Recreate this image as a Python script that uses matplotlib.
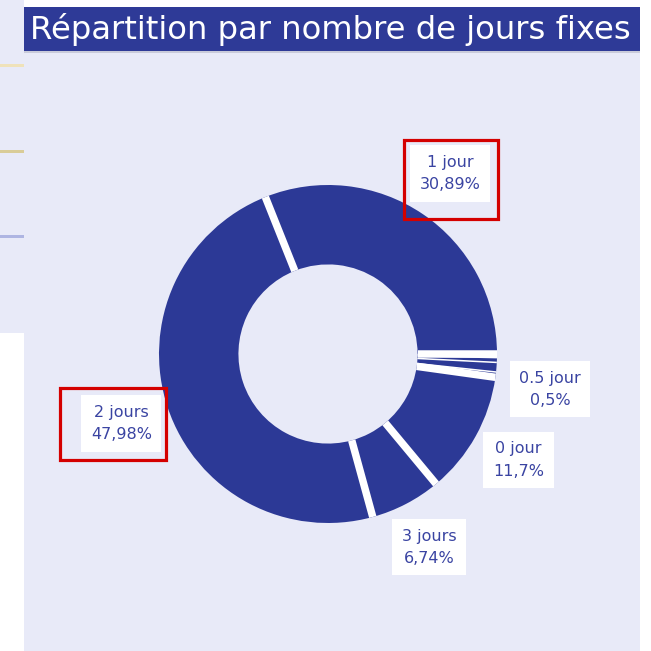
import numpy as np
import matplotlib
matplotlib.use("Agg")
import matplotlib.pyplot as plt
from matplotlib.patches import Rectangle

# ── Data ──
labels = ["1 jour", "2 jours", "3 jours", "0 jour", "0.5 jour",
          "1.5 jours", "2.5 jours", "4 jours", "5 jours"]
values = [30.89, 47.98, 6.74, 11.7, 0.5, 0.9, 0.45, 0.25, 0.09]
pct_text = ["30,89%", "47,98%", "6,74%", "11,7%", "0,5%", "", "", "", ""]
show_label = [True, True, True, True, True, False, False, False, False]
highlighted = {"1 jour": (94, 79, 1, -6), "2 jours": (106, 72, -8, -1)}  # w, h, dx, dy (px)

TITLE = "Répartition par nombre de jours fixes"

# ── Colours ──
PANEL = "#E8EAF8"
BAR = "#2E3A97"
SLICE = "#2C3996"
TEXT = "#3A44A2"
RED = "#D40000"

W = H = 651
fig = plt.figure(figsize=(W / 100, H / 100), dpi=100, facecolor="white")


def fig_rect(x0, y0, x1, y1, **kw):
    """Rectangle given in pixel coords measured from the top-left corner."""
    fig.patches.append(Rectangle((x0 / W, 1 - y1 / H), (x1 - x0) / W, (y1 - y0) / H,
                                 transform=fig.transFigure, figure=fig,
                                 zorder=-5, **kw))


# background: neighbouring dashboard strip on the left + chart panel
fig_rect(0, 0, 24, 333, facecolor=PANEL, edgecolor="none")
fig_rect(0, 64, 24, 67, facecolor="#EFE2BA", edgecolor="none")
fig_rect(0, 150, 24, 153, facecolor="#D9CC98", edgecolor="none")
fig_rect(0, 235, 24, 238, facecolor="#AEB5E2", edgecolor="none")
fig_rect(24, 7, 640, 651, facecolor=PANEL, edgecolor="none")
fig_rect(24, 7, 640, 51, facecolor=BAR, edgecolor="none")
fig_rect(24, 51, 640, 53, facecolor="#C9CBDA", edgecolor="none")
fig.text(30 / W, 1 - 30 / H, TITLE, color="white", fontsize=23.2,
         family="DejaVu Sans", ha="left", va="center")

# ── Donut ──
cx, cy, R = 328, 354, 169          # centre / outer radius in pixels
half = 270
hole = 0.53
ax = fig.add_axes([(cx - half) / W, 1 - (cy + half) / H, 2 * half / W, 2 * half / H])

wedges, _ = ax.pie(values, startangle=0, counterclock=True, radius=1.0,
                   colors=[SLICE] * len(values),
                   wedgeprops=dict(width=1 - hole, edgecolor="none", linewidth=0))

# white separators only along the radial edges (no outline on the arcs)
total = sum(values)
bounds = np.cumsum([0] + values) / total * 360
for i, b in enumerate(bounds[:-1]):
    prev_small = values[i - 1] < 1
    this_small = values[i] < 1
    lw = 1.1 if (prev_small and this_small) else 5.4
    t = np.radians(b)
    ax.plot([hole * np.cos(t), 1.0 * np.cos(t)], [hole * np.sin(t), 1.0 * np.sin(t)],
            color="white", lw=lw, solid_capstyle="butt", zorder=3)

ax.set_xlim(-half / R, half / R)
ax.set_ylim(-half / R, half / R)
ax.set_aspect("equal")
ax.axis("off")

start = 0.0
for lab, v, p, show in zip(labels, values, pct_text, show_label):
    ang = start + 360 * v / total / 2
    start += 360 * v / total
    if not show:
        continue
    if lab == "0.5 jour":
        ang -= 2.0
    r_lab = 1.33 if lab == "0.5 jour" else 1.29
    x = r_lab * np.cos(np.radians(ang))
    y = r_lab * np.sin(np.radians(ang))
    ax.text(x, y, f"{lab}\n{p}", ha="center", va="center", color=TEXT,
            fontsize=11.5, linespacing=1.6, family="DejaVu Sans",
            bbox=dict(boxstyle="square,pad=0.6", facecolor="white",
                      edgecolor="none"))
    if lab in highlighted:
        bw, bh, dx, dy = highlighted[lab]
        ax.add_patch(Rectangle(((x * R + dx - bw / 2) / R, (y * R + dy - bh / 2) / R),
                               bw / R, bh / R, fill=False, edgecolor=RED,
                               linewidth=2.3, clip_on=False))

fig.savefig("out.png", dpi=100, facecolor=fig.get_facecolor())
